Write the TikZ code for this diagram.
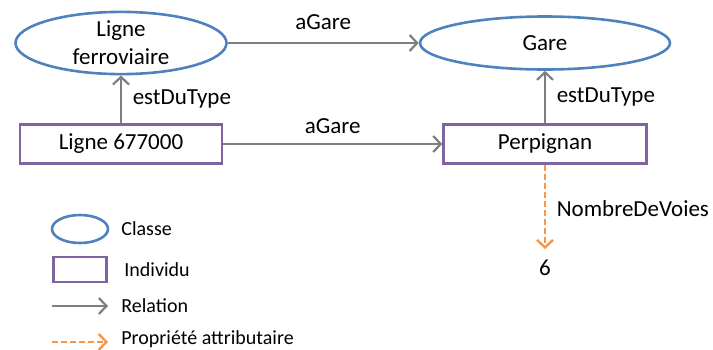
\documentclass[tikz,border=0pt]{standalone}
\usepackage{fontspec}
\setmainfont{Carlito}
\usetikzlibrary{arrows.meta,shapes.geometric}
\definecolor{classblue}{HTML}{4F81BD}
\definecolor{indivpurple}{HTML}{8064A2}
\definecolor{relgray}{HTML}{7F7F7F}
\definecolor{attrorange}{HTML}{F79646}

\begin{document}
\begin{tikzpicture}[x=0.5pt, y=-0.5pt,
	font=\fontsize{11.5}{14}\selectfont,
	classe/.style={ellipse, draw=classblue, line width=1.3pt, inner sep=0pt, align=center},
	individu/.style={rectangle, draw=indivpurple, line width=1.2pt, inner sep=0pt},
	relation/.style={draw=relgray, line width=1.1pt, -{Straight Barb[length=3.8pt,width=8pt]}},
	attribut/.style={draw=attrorange, line width=1.2pt, dash pattern=on 3pt off 1.5pt, -{Straight Barb[length=3.8pt,width=8pt]}},
	legtext/.style={anchor=west, inner sep=0pt, font=\fontsize{10}{12}\selectfont}]
	\useasboundingbox (0,0) rectangle (713,349);
	\newcommand{\TOPROW}{43}
	\newcommand{\MIDROW}{144}
	% classes and individuals
	\node[classe, minimum width=105.5pt, minimum height=26.5pt](ligne) at (121,\TOPROW){Ligne\\ferroviaire};
	\node[classe, minimum width=125pt, minimum height=26.5pt](gare) at (545,\TOPROW){Gare};
	\node[individu, minimum width=101pt, minimum height=19.5pt](l677) at (121,\MIDROW){Ligne 677000};
	\node[individu, minimum width=101.5pt, minimum height=19.5pt](perp) at (545,\MIDROW){Perpignan};
	\node(six) at (545,268){6};
	\draw [relation] (ligne) -- node[above=3pt]{aGare} (gare);
	\draw [relation] (l677) -- node[above=1.5pt]{aGare} (perp);
	\draw [relation] (l677) -- node[right=2pt]{estDuType} (ligne);
	\draw [relation] (perp) -- node[right=2pt]{estDuType} (gare);
	\draw [attribut, shorten >=2pt] (perp) -- node[right=2pt]{NombreDeVoies} (six);
	% legend
	\node[classe, minimum width=28pt, minimum height=14pt](legclasse) at (80,229){};
	\node[individu, minimum width=26.5pt, minimum height=12.5pt](legindiv) at (80,269.5){};
	\coordinate (relA) at (52,306);
	\coordinate (relB) at (108,306);
	\coordinate (attA) at (52,342);
	\coordinate (attB) at (108,342);
	\draw [relation] (relA) -- (relB);
	\draw [attribut] (attA) -- (attB);
	\node[legtext](txtclasse) at (121,229){Classe};
	\node[legtext](txtindiv) at (124,270){Individu};
	\node[legtext](txtrel) at (121,306){Relation};
	\node[legtext](txtatt) at (121,339){Propriété attributaire};
\end{tikzpicture}
\end{document}
